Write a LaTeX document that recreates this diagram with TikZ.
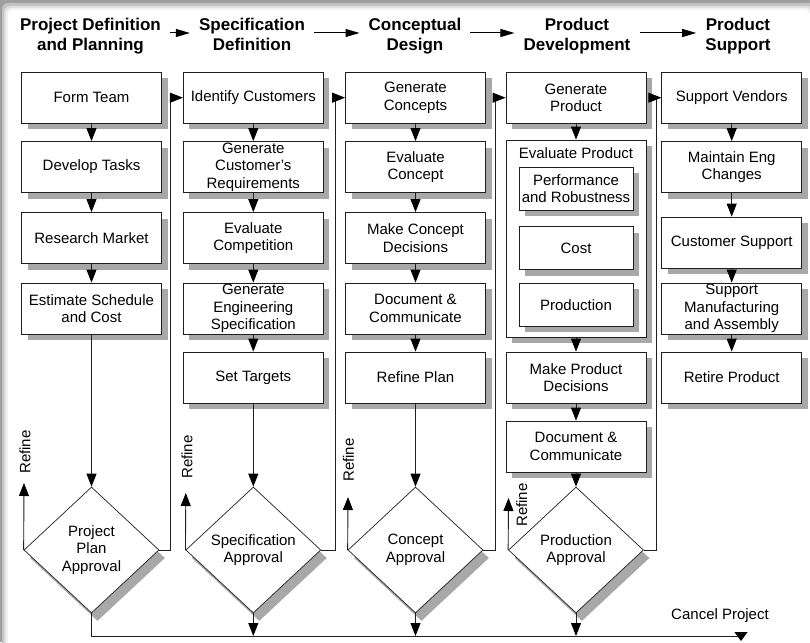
\documentclass[tikz,border=0pt]{standalone}
\usepackage{fontspec}
\setmainfont{Liberation Sans}
\usetikzlibrary{arrows.meta,shapes.geometric,shadows}
\definecolor{shadegray}{gray}{0.66}
\definecolor{linegray}{gray}{0.12}
\begin{document}
\begin{tikzpicture}[x=1pt,y=-1pt,
  stepbox/.style={rectangle, draw=linegray, line width=0.8pt, fill=white,
    minimum width=140pt, minimum height=51pt, inner xsep=2pt, inner ysep=0pt,
    align=center, font=\fontsize{15}{17.5}\selectfont,
    general shadow={shadow xshift=6pt, shadow yshift=-6pt, fill=shadegray}},
  subbox/.style={stepbox, minimum width=114pt, minimum height=43pt},
  gate/.style={diamond, draw=linegray, line width=0.7pt, fill=white,
    minimum width=135pt, minimum height=126pt, inner sep=0pt, align=center,
    font=\fontsize{15}{17.5}\selectfont,
    general shadow={shadow xshift=6pt, shadow yshift=-8pt, fill=shadegray}},
  phase/.style={anchor=north, inner sep=0pt, align=center,
    font=\fontsize{17}{20}\selectfont\bfseries},
  note/.style={inner sep=0pt, font=\fontsize{15}{17.5}\selectfont},
  flow/.style={draw=linegray, line width=0.9pt,
    -{Triangle[length=13pt,width=10pt,fill=black,color=black]}},
  endtip/.style={draw=linegray, line width=0.9pt,
    -{Triangle[length=9pt,width=13pt,fill=black,color=black]}},
  phasearrow/.style={draw=black, line width=1pt, -{Triangle[length=14pt,width=8pt]},
    shorten <=9pt, shorten >=9pt},
]
\useasboundingbox (0,0) rectangle (810,642);
\clip (0,0) rectangle (810,642);

% soft grey frame along the top and left edges
\fill[black!38] (0,0) rectangle (810,642);
\fill[black!24, rounded corners=6pt] (2,3) rectangle (816,660);
\fill[black!13, rounded corners=6pt] (4,6) rectangle (814,660);
\fill[black!5, rounded corners=6pt] (6,8) rectangle (812,660);
\fill[white, rounded corners=6pt] (8,10) rectangle (810,660);

% phase headings
\node[phase] (h1) at (90.5,18) {Project Definition\\and Planning};
\node[phase] (h2) at (252,18) {Specification\\Definition};
\node[phase] (h3) at (415,18) {Conceptual\\Design};
\node[phase] (h4) at (577,18) {Product\\Development};
\node[phase] (h5) at (738,18) {Product\\Support};
\coordinate (hy) at (0,33);
\draw[phasearrow] (h1.east |- hy) -- (h2.west |- hy);
\draw[phasearrow] (h2.east |- hy) -- (h3.west |- hy);
\draw[phasearrow] (h3.east |- hy) -- (h4.west |- hy);
\draw[phasearrow] (h4.east |- hy) -- (h5.west |- hy);

% project definition and planning
\node[stepbox] (a1) at (91.5,97.7) {Form Team};
\node[stepbox] (a2) at (91.5,167) {Develop Tasks};
\node[stepbox] (a3) at (91.5,238) {Research Market};
\node[stepbox] (a4) at (91.5,308.5) {Estimate Schedule\\and Cost};

% specification definition
\node[stepbox] (b1) at (253.3,97.7) {Identify Customers};
\node[stepbox] (b2) at (253.3,167) {Generate\\Customer's\\Requirements};
\node[stepbox] (b3) at (253.3,238) {Evaluate\\Competition};
\node[stepbox] (b4) at (253.3,308.5) {Generate\\Engineering\\Specification};
\node[stepbox] (b5) at (253.3,377.5) {Set Targets};

% conceptual design
\node[stepbox] (c1) at (415.5,97.7) {Generate\\Concepts};
\node[stepbox] (c2) at (415.5,167) {Evaluate\\Concept};
\node[stepbox] (c3) at (415.5,238) {Make Concept\\Decisions};
\node[stepbox] (c4) at (415.5,308.5) {Document \&\\Communicate};
\node[stepbox] (c5) at (415.5,377.5) {Refine Plan};

% product development
\node[stepbox] (e1) at (576,97.7) {Generate\\Product};
\node[stepbox, minimum height=197pt] (ev) at (576,238.5) {};
\node[note] (evl) at (576,153) {Evaluate Product};
\node[subbox] (p1) at (576,188.7) {Performance\\and Robustness};
\node[subbox] (p2) at (576,248) {Cost};
\node[subbox] (p3) at (576,304.7) {Production};
\node[stepbox] (e3) at (576,377.5) {Make Product\\Decisions};
\node[stepbox] (e4) at (576,446.5) {Document \&\\Communicate};

% product support
\node[stepbox] (f1) at (731.7,97.7) {Support Vendors};
\node[stepbox] (f2) at (731.7,167) {Maintain Eng\\Changes};
\node[stepbox] (f3) at (731.7,242.5) {Customer Support};
\node[stepbox] (f4) at (731.7,308.5) {Support\\Manufacturing\\and Assembly};
\node[stepbox] (f5) at (731.7,377.5) {Retire Product};

% approval gates
\node[gate] (d1) at (91.5,550) {Project\\Plan\\Approval};
\node[gate] (d2) at (253.3,550) {Specification\\Approval};
\node[gate] (d3) at (415.5,550) {Concept\\Approval};
\node[gate] (d4) at (576,550) {Production\\Approval};

% flow inside each phase
\draw[flow] (a1.south) -- (a2.north);
\draw[flow] (a2.south) -- (a3.north);
\draw[flow] (a3.south) -- (a4.north);
\draw[flow] (a4.south) -- (d1.north);
\draw[flow] (b1.south) -- (b2.north);
\draw[flow] (b2.south) -- (b3.north);
\draw[flow] (b3.south) -- (b4.north);
\draw[flow] (b4.south) -- (b5.north);
\draw[flow] (b5.south) -- (d2.north);
\draw[flow] (c1.south) -- (c2.north);
\draw[flow] (c2.south) -- (c3.north);
\draw[flow] (c3.south) -- (c4.north);
\draw[flow] (c4.south) -- (c5.north);
\draw[flow] (c5.south) -- (d3.north);
\draw[flow] (e1.south) -- (ev.north);
\draw[flow] (ev.south) -- (e3.north);
\draw[flow] (e3.south) -- (e4.north);
\draw[flow] (e4.south) -- (d4.north);
\draw[flow] (f1.south) -- (f2.north);
\draw[flow] (f2.south) -- (f3.north);
\draw[flow] (f3.south) -- (f4.north);
\draw[flow] (f4.south) -- (f5.north);

% approval passes on to the next phase
\coordinate (k1) at (170,550);
\coordinate (k2) at (335,550);
\coordinate (k3) at (495.7,550);
\coordinate (k4) at (656.7,550);
\draw[flow] (d1.east) -- (k1) |- (b1.west);
\draw[flow] (d2.east) -- (k2) |- (c1.west);
\draw[flow] (d3.east) -- (k3) |- (e1.west);
\draw[flow] (d4.east) -- (k4) |- (f1.west);

% refine loops
\coordinate (r1) at (24,483);
\coordinate (r2) at (185.8,493);
\coordinate (r3) at (348,497);
\coordinate (r4) at (508.5,498);
\draw[flow] (d1.west) -- (r1);
\draw[flow] (d2.west) -- (r2);
\draw[flow] (d3.west) -- (r3);
\draw[flow] (d4.west) -- (r4);
\node[note, rotate=90] (t1) at (25,452) {Refine};
\node[note, rotate=90] (t2) at (187,457) {Refine};
\node[note, rotate=90] (t3) at (348.5,460) {Refine};
\node[note, rotate=90] (t4) at (521.7,505) {Refine};

% cancel project line
\coordinate (cl) at (91.5,636);
\coordinate (ce) at (741,641);
\draw[endtip] (d1.south) -- (cl) -| (ce);
\draw[flow] (d2.south) -- (d2.south |- cl);
\draw[flow] (d3.south) -- (d3.south |- cl);
\draw[flow] (d4.south) -- (d4.south |- cl);
\node[note, anchor=base] (cp) at (720,619.5) {Cancel Project};
\end{tikzpicture}
\end{document}
